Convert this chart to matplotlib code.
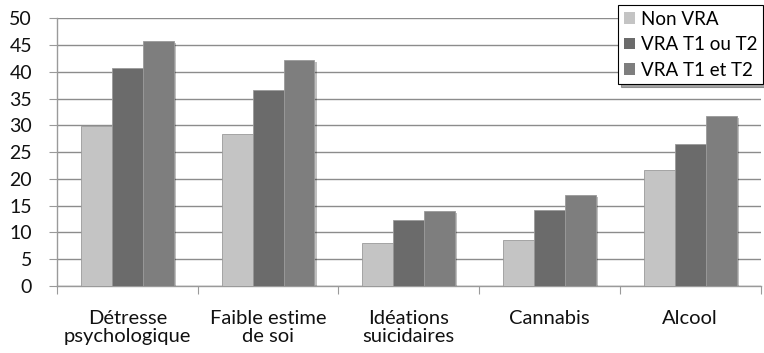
import matplotlib
matplotlib.use("Agg")
import matplotlib.pyplot as plt
import matplotlib.patheffects as pe
import numpy as np

categories = ["Détresse\npsychologique", "Faible estime\nde soi", "Idéations\nsuicidaires", "Cannabis", "Alcool"]
series_names = ["Non VRA", "VRA T1 ou T2", "VRA T1 et T2"]
non_vra = [29.8, 28.4, 8.0, 8.5, 21.7]
vra_t1_ou_t2 = [40.7, 36.7, 12.4, 14.2, 26.6]
vra_t1_et_t2 = [45.8, 42.2, 14.0, 17.0, 31.7]
y_ticks = [0, 5, 10, 15, 20, 25, 30, 35, 40, 45, 50]

colors = ["#c4c4c4", "#6b6b6b", "#7e7e7e"]
FONT = ["Lato", "DejaVu Sans"]
plt.rcParams["font.family"] = FONT

fig = plt.figure(figsize=(7.64, 3.53), dpi=100)
ax = fig.add_axes([57 / 764, 67 / 353, (760.5 - 57) / 764, (286 - 18.3) / 353])

x = np.arange(len(categories))
width = 0.22
shadow = [pe.SimplePatchShadow(offset=(1.5, -1.5), shadow_rgbFace="black", alpha=0.25), pe.Normal()]
for i, (vals, name) in enumerate(zip([non_vra, vra_t1_ou_t2, vra_t1_et_t2], series_names)):
    bars = ax.bar(x + (i - 1) * width, vals, width, color=colors[i], edgecolor="#9a9a9a",
                  linewidth=0.6, label=name, zorder=3)
    for b in bars:
        b.set_path_effects(shadow)

ax.set_xlim(-0.5, len(categories) - 0.5)
ax.set_ylim(0, 50)
ax.set_yticks(y_ticks)
ax.yaxis.grid(True, color="#8c8c8c", linewidth=1.0)
ax.set_axisbelow(True)

for side in ["top", "right"]:
    ax.spines[side].set_visible(False)
for side in ["left", "bottom"]:
    ax.spines[side].set_color("#9a9a9a")
    ax.spines[side].set_linewidth(1.0)

ax.set_xticks(np.arange(-0.5, len(categories), 1.0))
ax.set_xticklabels([])
ax.set_xticks(x, minor=True)
ax.set_xticklabels(categories, minor=True, fontsize=14.5, color="#111111", linespacing=1.1)
ax.tick_params(axis="x", which="major", length=6, color="#9a9a9a", direction="out")
ax.tick_params(axis="x", which="minor", length=0, pad=17)
ax.tick_params(axis="y", length=6, color="#9a9a9a", labelsize=14, labelcolor="#111111", pad=12)

leg = ax.legend(loc="upper right", bbox_to_anchor=(763 / 764, 348 / 353), bbox_transform=fig.transFigure,
                fontsize=13.5, frameon=True, fancybox=False, shadow=True, borderpad=0.3,
                handlelength=0.6, handleheight=0.6, handletextpad=0.3, labelspacing=0.45,
                borderaxespad=0)
leg.get_frame().set_edgecolor("black")
leg.get_frame().set_linewidth(0.8)
for h in leg.legend_handles:
    h.set_path_effects([])
    h.set_edgecolor("none")

fig.savefig("out.png", dpi=100)
